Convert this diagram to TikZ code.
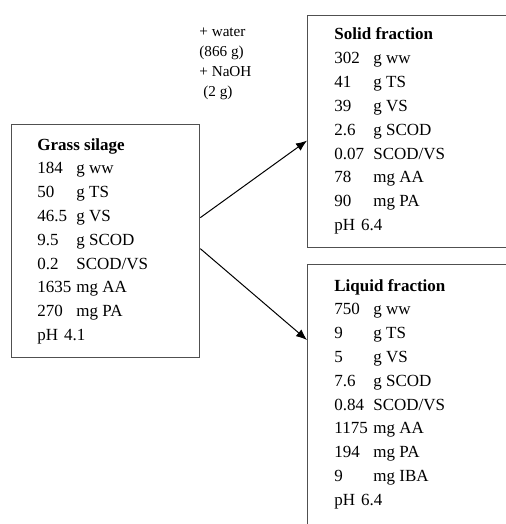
\documentclass[tikz,border=0pt]{standalone}
\usepackage{fontspec}
\setmainfont{Liberation Serif}
\usepackage{array}
\usetikzlibrary{arrows.meta,positioning}
\definecolor{boxgray}{RGB}{80,80,80}
\tikzset{
  fracbox/.style={draw=boxgray, line width=0.65pt, anchor=north west, inner sep=0pt},
  fractext/.style={anchor=base west, inner sep=0pt, font=\fontsize{8.5}{11.9}\selectfont},
  dosetext/.style={anchor=base west, inner sep=0pt, font=\fontsize{7.6}{9.85}\selectfont},
  flow/.style={line width=0.5pt, -{Latex[length=5.5pt,width=4.4pt]}}
}
\newcommand{\fractab}[1]{\begin{tabular}[t]{@{}p{19.5pt}@{}l@{}}#1\end{tabular}}
\newcommand{\fractitle}[1]{\multicolumn{2}{@{}l@{}}{\textbf{#1}}}
\newcommand{\phrow}[1]{\multicolumn{2}{@{}l@{}}{pH\hspace{3pt}#1}}

\begin{document}
\begin{tikzpicture}[x=0.5pt,y=-0.5pt]
    \clip[use as bounding box] (0,0) rectangle (506,524);
    % boxes
    \node[fracbox, minimum width=94pt, minimum height=116.5pt] (gbox) at (11,124) {};
    \node[fracbox, minimum width=125pt, minimum height=116pt] (sbox) at (307,15) {};
    \node[fracbox, minimum width=125pt, minimum height=150pt] (lbox) at (307,264) {};
    % contents
    \node[fractext] (gtext) at ([xshift=13pt,yshift=-13pt]gbox.north west) {\fractab{
        \fractitle{Grass silage}\\
        184 & g ww\\
        50 & g TS\\
        46.5 & g VS\\
        9.5 & g SCOD\\
        0.2 & SCOD/VS\\
        1635 & mg AA\\
        270 & mg PA\\
        \phrow{4.1}}};
    \node[fractext] (stext) at ([xshift=13.5pt,yshift=-12.5pt]sbox.north west) {\fractab{
        \fractitle{Solid fraction}\\
        302 & g ww\\
        41 & g TS\\
        39 & g VS\\
        2.6 & g SCOD\\
        0.07 & SCOD/VS\\
        78 & mg AA\\
        90 & mg PA\\
        \phrow{6.4}}};
    \node[fractext] (ltext) at ([xshift=13.5pt,yshift=-13.5pt]lbox.north west) {\fractab{
        \fractitle{Liquid fraction}\\
        750 & g ww\\
        9 & g TS\\
        5 & g VS\\
        7.6 & g SCOD\\
        0.84 & SCOD/VS\\
        1175 & mg AA\\
        194 & mg PA\\
        9 & mg IBA\\
        \phrow{6.4}}};
    % added water and NaOH
    \node[dosetext] (dose) at (199,37) {\begin{tabular}[t]{@{}l@{}}
        + water\\
        (866 g)\\
        + NaOH\\
        \hspace*{2pt}(2 g)\end{tabular}};
    % arrows
    \draw[flow] ([yshift=11.75pt]gbox.east) -- ([yshift=-4.5pt]sbox.west);
    \draw[flow] ([yshift=-3.75pt]gbox.east) -- ([yshift=-38pt]lbox.north west);
\end{tikzpicture}
\end{document}
